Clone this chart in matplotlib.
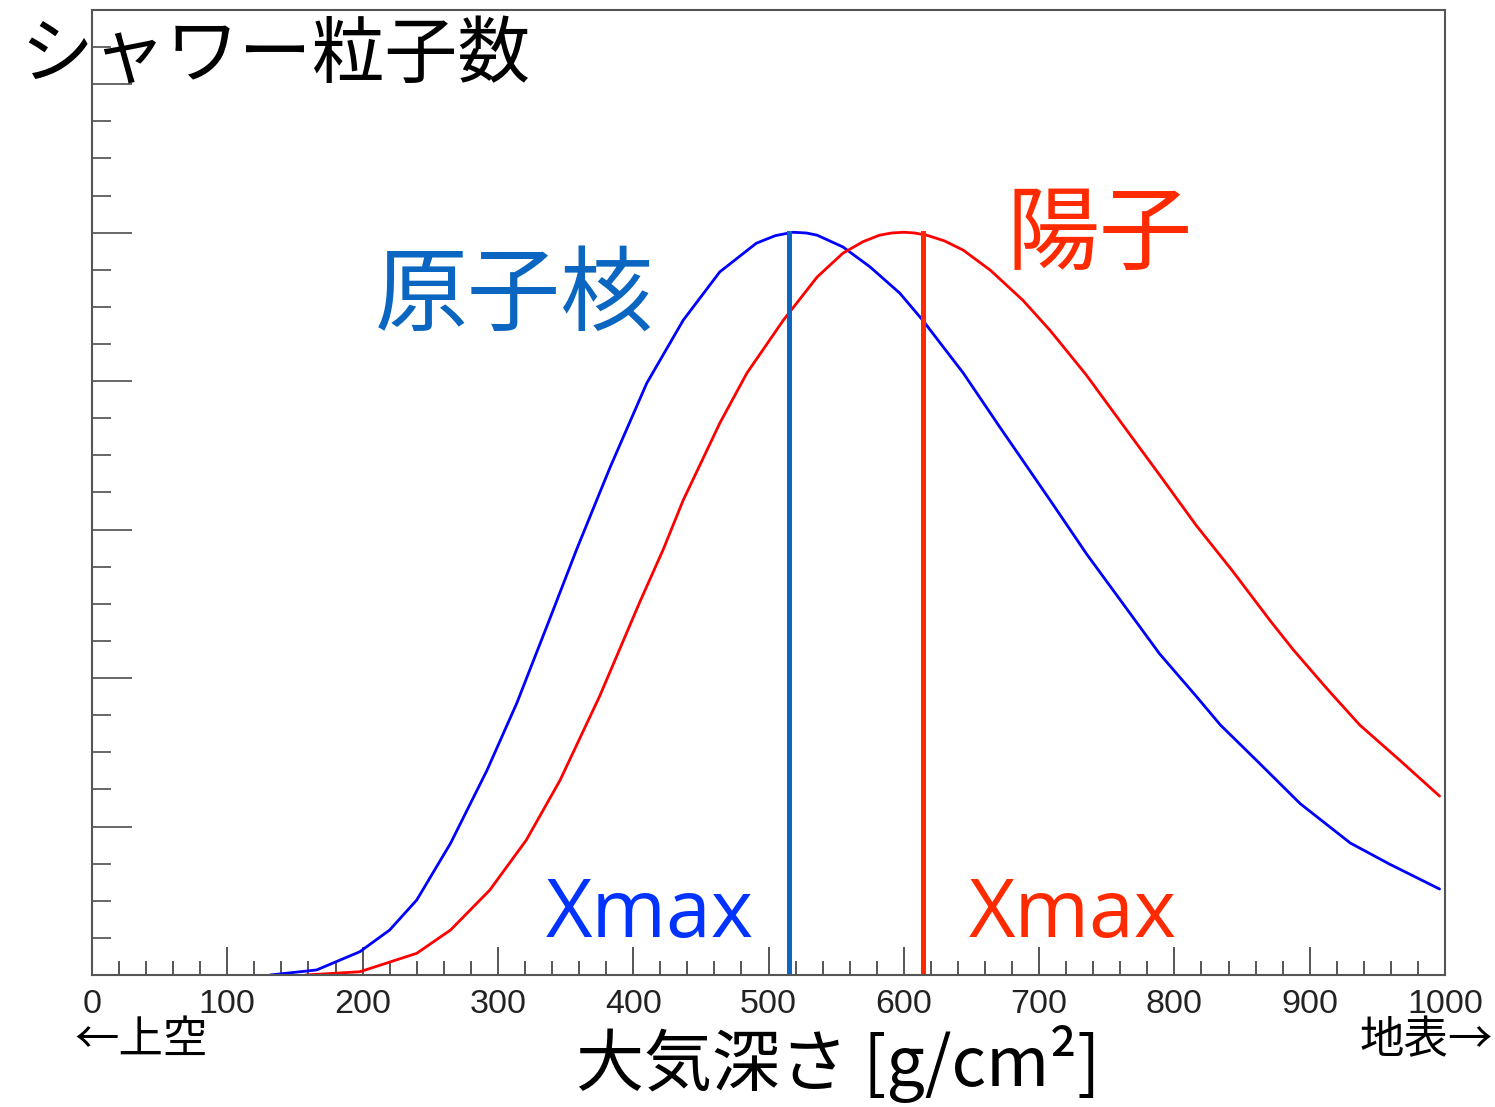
import matplotlib
matplotlib.use("Agg")
import matplotlib.pyplot as plt
from matplotlib.ticker import MultipleLocator, NullFormatter

plt.rcParams['font.family'] = ['Noto Sans CJK JP', 'DejaVu Sans']

# Shower size profiles vs. atmospheric depth (arbitrary units)
nucleus_depth = [131.6, 166, 198, 220, 240, 265, 292, 314, 338, 358, 370, 383, 410, 437,
                 464, 491, 505, 518, 528, 536, 555, 575, 597, 614, 644, 671, 708, 735, 762,
                 789, 816, 834, 861, 893, 930, 959, 996]
nucleus_size = [0.0, 0.034, 0.157, 0.303, 0.505, 0.887, 1.380, 1.832, 2.391, 2.862, 3.131,
                3.421, 3.986, 4.411, 4.736, 4.929, 4.980, 5.003, 4.998, 4.983, 4.904, 4.770,
                4.593, 4.410, 4.054, 3.690, 3.200, 2.837, 2.501, 2.164, 1.879, 1.684, 1.443,
                1.154, 0.889, 0.747, 0.579]

proton_depth = [158, 198, 240, 265, 294, 321, 346, 375, 405, 422, 437, 464, 484, 511, 536,
                555, 570, 582, 591, 600, 608, 617, 630, 644, 664, 688, 708, 720, 735, 762,
                787, 816, 843, 871, 888, 913, 937, 967, 996]
proton_size = [0.0, 0.022, 0.146, 0.303, 0.572, 0.909, 1.313, 1.874, 2.515, 2.862, 3.199,
               3.717, 4.054, 4.411, 4.702, 4.862, 4.940, 4.983, 4.998, 5.003, 4.998, 4.983,
               4.945, 4.882, 4.747, 4.545, 4.343, 4.209, 4.040, 3.704, 3.394, 3.030, 2.721,
               2.384, 2.189, 1.926, 1.684, 1.443, 1.205]

# Depth of shower maximum for each primary
xmax_nucleus = 515
xmax_proton = 614
peak_size = 5.0

x_ticks = [0, 100, 200, 300, 400, 500, 600, 700, 800, 900, 1000]

fig = plt.figure(figsize=(14.95, 11.07), dpi=100)
ax = fig.add_axes([92 / 1495, 1 - 975 / 1107, (1445 - 92) / 1495, (975 - 10) / 1107])

frame = '#555555'
for sp in ax.spines.values():
    sp.set_color(frame)
    sp.set_linewidth(1.5)

ax.plot(nucleus_depth, nucleus_size, color='#0000ff', lw=2.0,
        solid_capstyle='round', solid_joinstyle='round')
ax.plot(proton_depth, proton_size, color='#ff0000', lw=2.0,
        solid_capstyle='round', solid_joinstyle='round')

ax.plot([xmax_nucleus, xmax_nucleus], [0.03, peak_size], color='#0d66c2', lw=3.6)
ax.plot([xmax_proton, xmax_proton], [0.03, peak_size], color='#ff2a00', lw=3.6)

ax.set_xlim(0, 1000)
ax.set_ylim(0, 6.5)

ax.set_xticks(x_ticks)
ax.set_xticklabels([str(t) for t in x_ticks], family='Liberation Sans', fontsize=24.5,
                   color='#222222')
ax.xaxis.set_minor_locator(MultipleLocator(20))
ax.yaxis.set_major_locator(MultipleLocator(1))
ax.yaxis.set_minor_locator(MultipleLocator(0.25))
ax.yaxis.set_major_formatter(NullFormatter())

ax.tick_params(axis='x', which='major', direction='in', length=20, width=1.4,
               color=frame, pad=10)
ax.tick_params(axis='x', which='minor', direction='in', length=10, width=1.4, color=frame)
ax.tick_params(axis='y', which='major', direction='in', length=29, width=1.4, color='#666666')
ax.tick_params(axis='y', which='minor', direction='in', length=14, width=1.4, color='#666666')

# Annotations
fig.text(20 / 1495, 1 - 57 / 1107, 'シャワー粒子数', fontsize=52.5, color='black',
         ha='left', va='center')
ax.text(xmax_nucleus - 100, 4.57, '原子核', fontsize=67, color='#0a66c0',
        ha='right', va='center')
ax.text(xmax_proton + 62, 4.98, '陽子', fontsize=67, color='#ff2a00',
        ha='left', va='center')
ax.text(xmax_nucleus - 26, 0.40, 'Xmax', family='Open Sans', fontsize=58,
        color='#0033ff', ha='right', va='center')
ax.text(xmax_proton + 34, 0.40, 'Xmax', family='Open Sans', fontsize=58,
        color='#ff2a00', ha='left', va='center')

fig.text(74 / 1495, 1 - 1040 / 1107, '←上空', fontsize=32, color='black',
         ha='left', va='center', family=['Noto Sans CJK JP', 'DejaVu Sans'])
fig.text(1493 / 1495, 1 - 1040 / 1107, '地表→', fontsize=32, color='black',
         ha='right', va='center', family=['Noto Sans CJK JP', 'DejaVu Sans'])
fig.text(838 / 1495, 1 - 1064 / 1107, '大気深さ [g/cm²]', fontsize=49, color='black',
         ha='center', va='center')

fig.savefig('out.png', dpi=100)
